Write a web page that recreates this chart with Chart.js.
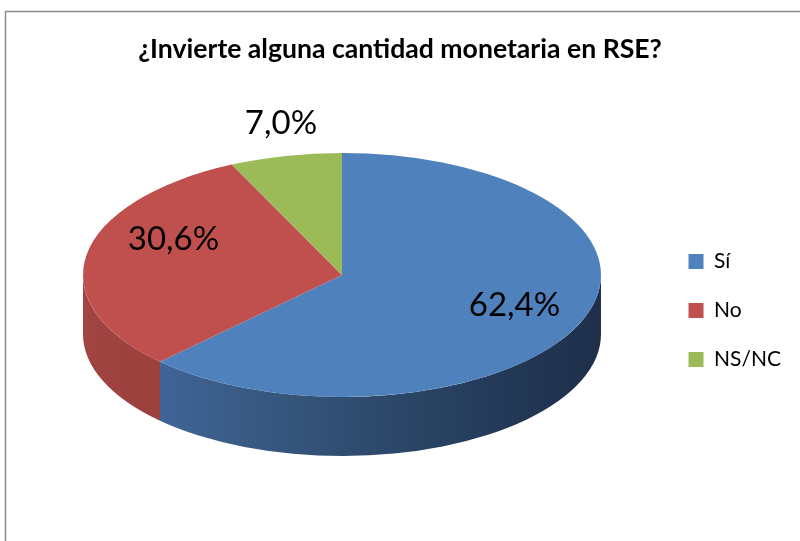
<!DOCTYPE html>
<html>
<head>
<meta charset="utf-8">
<script src="https://cdn.jsdelivr.net/npm/chart.js@4.4.0/dist/chart.umd.min.js"></script>
<style>
  html, body { margin: 0; padding: 0; background: #fff; }
  #chart { display: block; }
</style>
</head>
<body>
<canvas id="chart" width="800" height="541"></canvas>
<script>
// datos
const titleText = '¿Invierte alguna cantidad monetaria en RSE?';
const categories = ['Sí', 'No', 'NS/NC'];
const percentages = [62.4, 30.6, 7.0];
const sliceColors = ['#4f81bd', '#c0504d', '#9bbb59'];

// posición de las etiquetas (fracción del radio) y pequeño ajuste vertical
const labelRadius = [0.72, 0.66, 1.08];
const labelNudgeY = [-3, -22, -23];

// geometría del pastel 3D
const PIE_CX = 342;
const PIE_CY = 275;
const PIE_R = 259;
const TILT = 122 / 259;
const DEPTH = 59;

function wallFill(ctx, i) {
    if (i === 0) {
        const g = ctx.createLinearGradient(145, 0, 602, 0);
        g.addColorStop(0, '#41669a');
        g.addColorStop(0.35, '#335378');
        g.addColorStop(0.75, '#243b5a');
        g.addColorStop(1, '#1e2f4a');
        return g;
    }
    if (i === 1) {
        const g = ctx.createLinearGradient(84, 0, 145, 0);
        g.addColorStop(0, '#a24441');
        g.addColorStop(1, '#9c413e');
        return g;
    }
    return '#7d9a45';
}

const framePlugin = {
    id: 'frame',
    beforeDraw(chart) {
        const ctx = chart.ctx;
        ctx.save();
        ctx.strokeStyle = '#8c8c8c';
        ctx.lineWidth = 1.5;
        ctx.beginPath();
        ctx.moveTo(5.5, 541);
        ctx.lineTo(5.5, 11.5);
        ctx.lineTo(800, 11.5);
        ctx.stroke();
        ctx.restore();
    }
};

const pie3d = {
    id: 'pie3d',
    beforeDatasetsDraw(chart) {
        const ctx = chart.ctx;
        const arcs = chart.getDatasetMeta(0).data;
        const R = arcs[0].outerRadius;

        // paredes laterales (solo la parte frontal, ángulos 0..PI)
        arcs.forEach((arc, i) => {
            const lo = Math.max(arc.startAngle, 0);
            const hi = Math.min(arc.endAngle, Math.PI);
            if (hi <= lo) return;
            ctx.save();
            ctx.beginPath();
            ctx.ellipse(PIE_CX, PIE_CY, R, R * TILT, 0, lo, hi, false);
            ctx.lineTo(PIE_CX + R * Math.cos(hi), PIE_CY + R * TILT * Math.sin(hi) + DEPTH);
            ctx.ellipse(PIE_CX, PIE_CY + DEPTH, R, R * TILT, 0, hi, lo, true);
            ctx.closePath();
            ctx.fillStyle = wallFill(ctx, i);
            ctx.fill();
            ctx.restore();
        });

        // cara superior: se aplasta el círculo en una elipse
        ctx.save();
        ctx.translate(PIE_CX, PIE_CY);
        ctx.scale(1, TILT);
        ctx.translate(-arcs[0].x, -arcs[0].y);
    },
    afterDatasetsDraw(chart) {
        const ctx = chart.ctx;
        ctx.restore();

        const arcs = chart.getDatasetMeta(0).data;
        ctx.save();
        ctx.font = '33px Lato';
        ctx.fillStyle = '#000';
        ctx.textAlign = 'center';
        ctx.textBaseline = 'middle';
        arcs.forEach((arc, i) => {
            const mid = (arc.startAngle + arc.endAngle) / 2;
            const r = arc.outerRadius * labelRadius[i];
            const x = PIE_CX + r * Math.cos(mid);
            const y = PIE_CY + r * TILT * Math.sin(mid) + labelNudgeY[i];
            ctx.fillText(percentages[i].toFixed(1).replace('.', ',') + '%', x, y);
        });
        ctx.restore();
    }
};

new Chart(document.getElementById('chart'), {
    type: 'pie',
    data: {
        labels: categories,
        datasets: [{
            data: percentages,
            backgroundColor: sliceColors,
            borderWidth: 0,
            clip: false
        }]
    },
    options: {
        responsive: false,
        animation: false,
        radius: PIE_R,
        layout: { padding: { left: 9, right: 9, bottom: -80 } },
        plugins: {
            title: {
                display: true,
                text: titleText,
                color: '#000',
                font: { family: 'Lato', size: 26.6, weight: 'bold' },
                padding: { top: 33, bottom: 10 }
            },
            legend: {
                position: 'right',
                align: 'center',
                labels: {
                    boxWidth: 15,
                    boxHeight: 15,
                    padding: 28,
                    color: '#000',
                    font: { family: 'Lato', size: 21 }
                }
            },
            tooltip: { enabled: false }
        }
    },
    plugins: [framePlugin, pie3d]
});
</script>
</body>
</html>
